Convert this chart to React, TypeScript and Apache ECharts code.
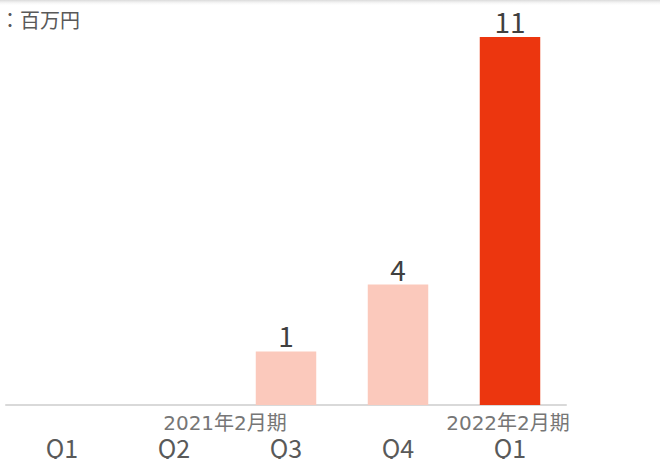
import React, { useEffect, useRef } from "react";
import * as echarts from "echarts";

const categories = ["Q1", "Q2", "Q3", "Q4", "Q1"];
const values: (number | null)[] = [null, null, 1.6, 3.6, 11];
const valueLabels = ["", "", "1", "4", "11"];
const barColors = ["#FBC9BC", "#FBC9BC", "#FBC9BC", "#FBC9BC", "#EC360F"];
const yearLabels = ["2021年2月期", "2022年2月期"];
const unitLabel = "：百万円";

const FONT = "'Noto Sans CJK JP', 'Noto Sans', sans-serif";
const YEAR_FONT = "'DejaVu Sans', 'Noto Sans CJK JP', sans-serif";

export default function App() {
  const ref = useRef<HTMLDivElement>(null);
  useEffect(() => {
    if (!ref.current) return;
    const chart = echarts.init(ref.current, null, { renderer: "svg" });
    chart.setOption({
      animation: false,
      backgroundColor: "#ffffff",
      textStyle: { fontFamily: FONT },
      grid: { left: 6, right: 94, top: 37, bottom: 54, containLabel: false },
      xAxis: {
        type: "category",
        data: categories,
        axisLine: { lineStyle: { color: "#D9D9D9", width: 2 } },
        axisTick: { show: false },
        axisLabel: {
          color: "#595959",
          fontSize: 25,
          lineHeight: 25,
          fontFamily: FONT,
          margin: 29,
          interval: 0,
        },
      },
      yAxis: {
        type: "value",
        min: 0,
        max: 11,
        show: false,
        splitLine: { show: false },
      },
      series: [
        {
          type: "bar",
          barWidth: "54%",
          data: values.map((v, i) => ({
            value: v,
            itemStyle: { color: barColors[i] },
          })),
          label: {
            show: true,
            position: "top",
            distance: 2,
            color: "#404040",
            fontSize: 28,
            fontFamily: FONT,
            formatter: (p: any) => valueLabels[p.dataIndex],
          },
        },
      ],
      graphic: [
        {
          type: "rect",
          left: 0,
          top: 0,
          shape: { width: 660, height: 6 },
          style: {
            fill: new echarts.graphic.LinearGradient(0, 0, 0, 1, [
              { offset: 0, color: "#DADADA" },
              { offset: 1, color: "rgba(255,255,255,0)" },
            ]),
          },
          silent: true,
        },
        {
          type: "text",
          left: 0,
          top: 9,
          style: {
            text: unitLabel,
            fill: "#595959",
            font: `20px ${FONT}`,
          },
        },
        {
          type: "text",
          x: 225,
          y: 423,
          style: {
            text: yearLabels[0],
            fill: "#767676",
            font: `20px ${YEAR_FONT}`,
            align: "center",
            verticalAlign: "middle",
          },
        },
        {
          type: "text",
          x: 508,
          y: 423,
          style: {
            text: yearLabels[1],
            fill: "#767676",
            font: `20px ${YEAR_FONT}`,
            align: "center",
            verticalAlign: "middle",
          },
        },
      ],
    });
    return () => chart.dispose();
  }, []);
  return <div ref={ref} style={{ width: 660, height: 459, position: "fixed", left: 0, top: 0 }} />;
}
